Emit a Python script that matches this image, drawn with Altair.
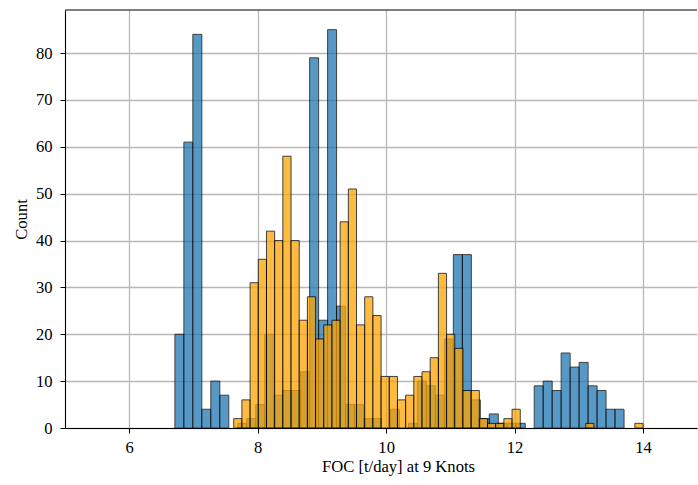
import altair as alt
import numpy as np
import pandas as pd

# Histogram counts per bin (50 bins for each series)
blue_counts = [20, 61, 84, 4, 10, 7, 0, 1, 2, 5,
               20, 7, 8, 8, 12, 79, 23, 85, 26, 5,
               5, 2, 2, 0, 4, 0, 1, 10, 9, 7,
               19, 37, 37, 6, 2, 3, 1, 1, 1, 0,
               9, 10, 8, 16, 13, 14, 9, 8, 4, 4]
orange_counts = [2, 6, 31, 36, 42, 40, 58, 40, 23, 28,
                 19, 22, 23, 44, 51, 22, 28, 24, 11, 11,
                 6, 7, 11, 12, 15, 33, 20, 17, 8, 8,
                 2, 1, 1, 2, 4, 0, 0, 0, 0, 0,
                 0, 0, 0, 1, 0, 0, 0, 0, 0, 1]

# Bin ranges (lower edge of first bin, upper edge of last bin)
blue_range = (6.711, 13.704)
orange_range = (7.627, 14.0)

x_ticks = [6, 8, 10, 12, 14]
y_ticks = [0, 10, 20, 30, 40, 50, 60, 70, 80]

PLOT_W = 632
PLOT_H = 418


def bins_frame(counts, lo_hi):
    edges = np.linspace(lo_hi[0], lo_hi[1], len(counts) + 1)
    df = pd.DataFrame({"start": edges[:-1], "end": edges[1:], "count": counts})
    return df[df["count"] > 0]


FONT = "Liberation Serif"
FONT_SIZE = 16.6

# the axes run on past the right edge of the canvas, so the x title sits
# at the centre of the full axes width rather than the visible part
x_enc = alt.X("start:Q", scale=alt.Scale(domain=[5.0, 14.84], nice=False, zero=False),
              axis=alt.Axis(values=x_ticks, format="d", title="FOC [t/day] at 9 Knots",
                            titleX=333))
y_enc = alt.Y("count:Q", scale=alt.Scale(domain=[0, 89.2], nice=False),
              axis=alt.Axis(values=y_ticks, format="d", title="Count"))


def hist_layer(counts, lo_hi, color):
    return alt.Chart(bins_frame(counts, lo_hi)).mark_rect(
        color=color, opacity=0.75, stroke="black", strokeWidth=1
    ).encode(x=x_enc, x2="end:Q", y=y_enc, y2=alt.datum(0))


blue = hist_layer(blue_counts, blue_range, "#1f77b4")
orange = hist_layer(orange_counts, orange_range, "#ffa500")

# top spine of the axes frame
top_spine = alt.Chart(pd.DataFrame({"k": [0]})).mark_rule(
    color="black", strokeWidth=1.1
).encode(x=alt.value(0), x2=alt.value(PLOT_W), y=alt.value(0))

chart = alt.layer(blue, orange, top_spine).properties(
    width=PLOT_W,
    height=PLOT_H,
    autosize=alt.AutoSizeParams(type="none"),
    padding={"left": 65, "top": 10, "right": 1, "bottom": 57},
).configure_view(
    strokeWidth=0
).configure_axis(
    zindex=1,
    grid=True,
    gridColor="#b8b8b8",
    gridWidth=1.3,
    domain=True,
    domainColor="black",
    domainWidth=1.1,
    ticks=True,
    tickColor="black",
    tickSize=5,
    tickWidth=1,
    labelFont=FONT,
    labelFontSize=FONT_SIZE,
    labelColor="black",
    titleFont=FONT,
    titleFontSize=FONT_SIZE,
    titleFontWeight="normal",
    titleColor="black",
).configure_axisX(
    labelPadding=6, titlePadding=3
).configure_axisY(
    labelPadding=8, titlePadding=6
)

chart.save("out.html", embed_options={"renderer": "svg", "actions": False})
